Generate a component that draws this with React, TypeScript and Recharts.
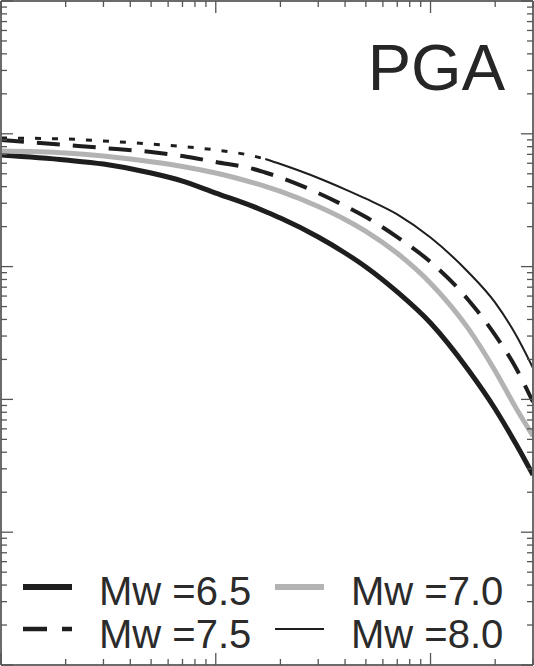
import React from 'react';
import { LineChart, Line, XAxis, YAxis } from 'recharts';

// distance (km) and PGA (g)
const DISTANCE_KM = [1, 2, 3, 5, 7, 10, 15, 17, 20, 30, 40, 50, 70, 100, 150, 200, 250, 300];
const PGA_MW65 = [0.692, 0.635, 0.592, 0.507, 0.441, 0.358, 0.283, 0.26, 0.232, 0.167, 0.1266, 0.0993, 0.0644, 0.0376, 0.01665, 0.00847, 0.00461, 0.0027];
const PGA_MW70 = [0.742, 0.717, 0.68, 0.616, 0.568, 0.507, 0.427, 0.402, 0.368, 0.2836, 0.2266, 0.1844, 0.1259, 0.075, 0.0341, 0.01637, 0.00861, 0.0053];
const PGA_MW75 = [0.898, 0.823, 0.782, 0.729, 0.68, 0.613, 0.543, 0.511, 0.469, 0.358, 0.286, 0.236, 0.167, 0.1083, 0.0561, 0.0305, 0.01723, 0.00956];
const PGA_MW80 = [0.93, 0.914, 0.883, 0.838, 0.802, 0.755, 0.68, 0.646, 0.592, 0.465, 0.382, 0.3246, 0.2472, 0.1654, 0.0907, 0.0535, 0.0305, 0.01723];
// Mw 8.0 is drawn dotted up to this distance, solid beyond
const MW80_DOTTED_UNTIL_KM = 17;

const X_TICKS = [1, 2, 3, 4, 5, 6, 7, 8, 9, 10, 20, 30, 40, 50, 60, 70, 80, 90, 100, 200, 300];
const Y_TICKS = [
  0.0001, 0.0002, 0.0003, 0.0004, 0.0005, 0.0006, 0.0007, 0.0008, 0.0009,
  0.001, 0.002, 0.003, 0.004, 0.005, 0.006, 0.007, 0.008, 0.009,
  0.01, 0.02, 0.03, 0.04, 0.05, 0.06, 0.07, 0.08, 0.09,
  0.1, 0.2, 0.3, 0.4, 0.5, 0.6, 0.7, 0.8, 0.9,
  1, 2, 3, 4, 5, 6, 7, 8, 9, 10,
];
const MAJOR_TICKS = [0.0001, 0.001, 0.01, 0.1, 1, 10, 100];

const LEGEND_LABELS = ['Mw =6.5', 'Mw =7.0', 'Mw =7.5', 'Mw =8.0'];

const data = DISTANCE_KM.map((d, i) => ({
  d,
  m65: PGA_MW65[i],
  m70: PGA_MW70[i],
  m75: PGA_MW75[i],
  m80near: d <= MW80_DOTTED_UNTIL_KM ? PGA_MW80[i] : null,
  m80far: d >= MW80_DOTTED_UNTIL_KM ? PGA_MW80[i] : null,
}));

const W = 534;
const H = 666;
const BLACK = '#1e1e1e';
const GREY = '#b3b3b3';
const FONT = '"Liberation Sans", Arial, Helvetica, sans-serif';

// inward pointing tick marks, no labels
const InTick = (props: any) => {
  const { x, y, payload, side } = props;
  const len = MAJOR_TICKS.includes(payload.value) ? 12 : 6;
  let x2 = x;
  let y2 = y;
  if (side === 'bottom') y2 = y - len;
  if (side === 'top') y2 = y + len;
  if (side === 'left') x2 = x + len;
  if (side === 'right') x2 = x - len;
  return <line x1={x} y1={y} x2={x2} y2={y2} stroke="#555" strokeWidth={1.3} />;
};

const axisLine = { stroke: '#6b6b6b', strokeWidth: 2 };

const legendItems = [
  { label: LEGEND_LABELS[0], col: 0, row: 0, stroke: BLACK, width: 6, dash: undefined },
  { label: LEGEND_LABELS[1], col: 1, row: 0, stroke: GREY, width: 6, dash: undefined },
  { label: LEGEND_LABELS[2], col: 0, row: 1, stroke: BLACK, width: 4.5, dash: '24 15' },
  { label: LEGEND_LABELS[3], col: 1, row: 1, stroke: BLACK, width: 2, dash: undefined },
];

export default function App() {
  return (
    <div style={{ position: 'relative', width: W, height: H, background: '#fff' }}>
      <style>{'body{margin:0;}'}</style>
      <LineChart width={W} height={H} data={data} margin={{ top: 0, right: 0, bottom: 0, left: 0 }}>
        <XAxis
          xAxisId="bottom"
          dataKey="d"
          type="number"
          scale="log"
          domain={[1, 300]}
          allowDataOverflow
          ticks={X_TICKS}
          interval={0}
          height={1}
          tickSize={0}
          tickMargin={0}
          tickLine={false}
          axisLine={axisLine}
          tick={(p: any) => <InTick {...p} side="bottom" />}
        />
        <XAxis
          xAxisId="top"
          orientation="top"
          dataKey="d"
          type="number"
          scale="log"
          domain={[1, 300]}
          allowDataOverflow
          ticks={X_TICKS}
          interval={0}
          height={1}
          tickSize={0}
          tickMargin={0}
          tickLine={false}
          axisLine={axisLine}
          tick={(p: any) => <InTick {...p} side="top" />}
        />
        <YAxis
          yAxisId="left"
          type="number"
          scale="log"
          domain={[0.0001, 10]}
          allowDataOverflow
          ticks={Y_TICKS}
          interval={0}
          width={1}
          tickSize={0}
          tickMargin={0}
          tickLine={false}
          axisLine={axisLine}
          tick={(p: any) => <InTick {...p} side="left" />}
        />
        <YAxis
          yAxisId="right"
          orientation="right"
          type="number"
          scale="log"
          domain={[0.0001, 10]}
          allowDataOverflow
          ticks={Y_TICKS}
          interval={0}
          width={1}
          tickSize={0}
          tickMargin={0}
          tickLine={false}
          axisLine={axisLine}
          tick={(p: any) => <InTick {...p} side="right" />}
        />
        <Line xAxisId="bottom" yAxisId="left" type="monotone" dataKey="m65" stroke={BLACK} strokeWidth={5} dot={false} isAnimationActive={false} />
        <Line xAxisId="bottom" yAxisId="left" type="monotone" dataKey="m70" stroke={GREY} strokeWidth={5} dot={false} isAnimationActive={false} />
        <Line xAxisId="bottom" yAxisId="left" type="monotone" dataKey="m75" stroke={BLACK} strokeWidth={4} strokeDasharray="23 13" dot={false} isAnimationActive={false} />
        <Line xAxisId="bottom" yAxisId="left" type="monotone" dataKey="m80near" stroke={BLACK} strokeWidth={3} strokeDasharray="6 11" dot={false} connectNulls={false} isAnimationActive={false} />
        <Line xAxisId="bottom" yAxisId="left" type="monotone" dataKey="m80far" stroke={BLACK} strokeWidth={2} dot={false} connectNulls={false} isAnimationActive={false} />
      </LineChart>

      <svg width={W} height={H} style={{ position: 'absolute', left: 0, top: 0, pointerEvents: 'none' }}>
        <text x={505} y={90} textAnchor="end" fontFamily={FONT} fontSize={65} fill="#262626">
          PGA
        </text>
        {legendItems.map((it) => {
          const lx = it.col === 0 ? 23 : 275;
          const tx = it.col === 0 ? 99 : 351;
          const ly = it.row === 0 ? 587 : 629;
          const ty = it.row === 0 ? 605 : 648;
          return (
            <g key={it.label}>
              <line x1={lx} y1={ly} x2={lx + 49} y2={ly} stroke={it.stroke} strokeWidth={it.width} strokeDasharray={it.dash} />
              <text x={tx} y={ty} fontFamily={FONT} fontSize={40} fill="#2b2b2b">
                {it.label}
              </text>
            </g>
          );
        })}
      </svg>
    </div>
  );
}
